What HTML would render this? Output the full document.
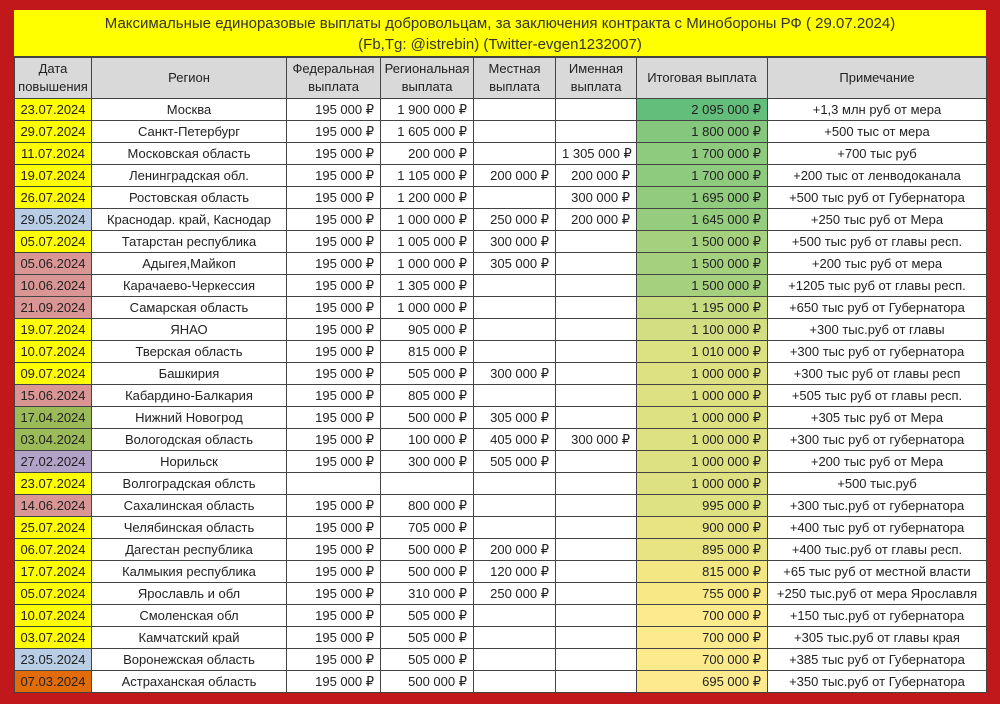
<!DOCTYPE html>
<html><head><meta charset="utf-8"><style>
body{margin:0;width:1000px;height:704px;background:#c0181b;overflow:hidden;font-family:"Liberation Sans","DejaVu Sans",sans-serif;}
#t{position:absolute;left:14px;top:10px;width:972px;background:#fff;}
.title{background:#ffff00;height:47px;text-align:center;font-size:15px;line-height:21px;color:#333;padding-top:3px;box-sizing:border-box;border-bottom:1px solid #444;}
table{border-collapse:collapse;table-layout:fixed;width:972px;font-size:13px;color:#222;}
td,th{border:1px solid #444;padding:0 6px;height:21px;white-space:nowrap;overflow:hidden;}
th{background:#d9d9d9;font-weight:normal;height:40px;line-height:18px;text-align:center;padding:0 2px;}
td{text-align:right;}
td.d{text-align:center;background:#ffff00;padding:0;}
td.r,td.n{text-align:center;padding:0 2px;}
.b{background:#b9cde5!important}.p{background:#d99694!important}.g{background:#9bbb59!important}.v{background:#b3a2c7!important}.o{background:#e26b0a!important}
</style></head><body>
<div id="t">
<div class="title">Максимальные единоразовые выплаты добровольцам, за заключения контракта с Минобороны РФ ( 29.07.2024)<br>(Fb,Tg: @istrebin) (Twitter-evgen1232007)</div>
<table>
<colgroup><col style="width:77px"><col style="width:195px"><col style="width:94px"><col style="width:93px"><col style="width:82px"><col style="width:81px"><col style="width:131px"><col style="width:219px"></colgroup>
<tr><th>Дата<br>повышения</th><th>Регион</th><th>Федеральная<br>выплата</th><th>Региональная<br>выплата</th><th>Местная<br>выплата</th><th>Именная<br>выплата</th><th>Итоговая выплата</th><th>Примечание</th></tr>
<tr><td class="d">23.07.2024</td><td class="r">Москва</td><td>195 000 ₽</td><td>1 900 000 ₽</td><td></td><td></td><td style="background:#63be7b">2 095 000 ₽</td><td class="n">+1,3 млн руб от мера</td></tr>
<tr><td class="d">29.07.2024</td><td class="r">Санкт-Петербург</td><td>195 000 ₽</td><td>1 605 000 ₽</td><td></td><td></td><td style="background:#84c77d">1 800 000 ₽</td><td class="n">+500 тыс от мера</td></tr>
<tr><td class="d">11.07.2024</td><td class="r">Московская область</td><td>195 000 ₽</td><td>200 000 ₽</td><td></td><td>1 305 000 ₽</td><td style="background:#8fcb7e">1 700 000 ₽</td><td class="n">+700 тыс руб</td></tr>
<tr><td class="d">19.07.2024</td><td class="r">Ленинградская обл.</td><td>195 000 ₽</td><td>1 105 000 ₽</td><td>200 000 ₽</td><td>200 000 ₽</td><td style="background:#8fcb7e">1 700 000 ₽</td><td class="n">+200 тыс от ленводоканала</td></tr>
<tr><td class="d">26.07.2024</td><td class="r">Ростовская область</td><td>195 000 ₽</td><td>1 200 000 ₽</td><td></td><td>300 000 ₽</td><td style="background:#90cb7e">1 695 000 ₽</td><td class="n">+500 тыс руб от Губернатора</td></tr>
<tr><td class="d b">29.05.2024</td><td class="r">Краснодар. край, Каснодар</td><td>195 000 ₽</td><td>1 000 000 ₽</td><td>250 000 ₽</td><td>200 000 ₽</td><td style="background:#95cc7e">1 645 000 ₽</td><td class="n">+250 тыс руб от Мера</td></tr>
<tr><td class="d">05.07.2024</td><td class="r">Татарстан республика</td><td>195 000 ₽</td><td>1 005 000 ₽</td><td>300 000 ₽</td><td></td><td style="background:#a5d17f">1 500 000 ₽</td><td class="n">+500 тыс руб от главы респ.</td></tr>
<tr><td class="d p">05.06.2024</td><td class="r">Адыгея,Майкоп</td><td>195 000 ₽</td><td>1 000 000 ₽</td><td>305 000 ₽</td><td></td><td style="background:#a5d17f">1 500 000 ₽</td><td class="n">+200 тыс руб от мера</td></tr>
<tr><td class="d p">10.06.2024</td><td class="r">Карачаево-Черкессия</td><td>195 000 ₽</td><td>1 305 000 ₽</td><td></td><td></td><td style="background:#a5d17f">1 500 000 ₽</td><td class="n">+1205 тыс руб от главы респ.</td></tr>
<tr><td class="d p">21.09.2024</td><td class="r">Самарская область</td><td>195 000 ₽</td><td>1 000 000 ₽</td><td></td><td></td><td style="background:#c7db81">1 195 000 ₽</td><td class="n">+650 тыс руб от Губернатора</td></tr>
<tr><td class="d">19.07.2024</td><td class="r">ЯНАО</td><td>195 000 ₽</td><td>905 000 ₽</td><td></td><td></td><td style="background:#d2de81">1 100 000 ₽</td><td class="n">+300 тыс.руб от главы</td></tr>
<tr><td class="d">10.07.2024</td><td class="r">Тверская область</td><td>195 000 ₽</td><td>815 000 ₽</td><td></td><td></td><td style="background:#dce182">1 010 000 ₽</td><td class="n">+300 тыс руб от губернатора</td></tr>
<tr><td class="d">09.07.2024</td><td class="r">Башкирия</td><td>195 000 ₽</td><td>505 000 ₽</td><td>300 000 ₽</td><td></td><td style="background:#dde182">1 000 000 ₽</td><td class="n">+300 тыс руб от главы респ</td></tr>
<tr><td class="d p">15.06.2024</td><td class="r">Кабардино-Балкария</td><td>195 000 ₽</td><td>805 000 ₽</td><td></td><td></td><td style="background:#dde182">1 000 000 ₽</td><td class="n">+505 тыс руб от главы респ.</td></tr>
<tr><td class="d g">17.04.2024</td><td class="r">Нижний Новогрод</td><td>195 000 ₽</td><td>500 000 ₽</td><td>305 000 ₽</td><td></td><td style="background:#dde182">1 000 000 ₽</td><td class="n">+305 тыс руб от Мера</td></tr>
<tr><td class="d g">03.04.2024</td><td class="r">Вологодская область</td><td>195 000 ₽</td><td>100 000 ₽</td><td>405 000 ₽</td><td>300 000 ₽</td><td style="background:#dde182">1 000 000 ₽</td><td class="n">+300 тыс руб от губернатора</td></tr>
<tr><td class="d v">27.02.2024</td><td class="r">Норильск</td><td>195 000 ₽</td><td>300 000 ₽</td><td>505 000 ₽</td><td></td><td style="background:#dde182">1 000 000 ₽</td><td class="n">+200 тыс руб от Мера</td></tr>
<tr><td class="d">23.07.2024</td><td class="r">Волгоградская облсть</td><td></td><td></td><td></td><td></td><td style="background:#dde182">1 000 000 ₽</td><td class="n">+500 тыс.руб</td></tr>
<tr><td class="d p">14.06.2024</td><td class="r">Сахалинская область</td><td>195 000 ₽</td><td>800 000 ₽</td><td></td><td></td><td style="background:#dee282">995 000 ₽</td><td class="n">+300 тыс.руб от губернатора</td></tr>
<tr><td class="d">25.07.2024</td><td class="r">Челябинская область</td><td>195 000 ₽</td><td>705 000 ₽</td><td></td><td></td><td style="background:#e8e483">900 000 ₽</td><td class="n">+400 тыс руб от губернатора</td></tr>
<tr><td class="d">06.07.2024</td><td class="r">Дагестан республика</td><td>195 000 ₽</td><td>500 000 ₽</td><td>200 000 ₽</td><td></td><td style="background:#e9e483">895 000 ₽</td><td class="n">+400 тыс.руб от главы респ.</td></tr>
<tr><td class="d">17.07.2024</td><td class="r">Калмыкия республика</td><td>195 000 ₽</td><td>500 000 ₽</td><td>120 000 ₽</td><td></td><td style="background:#f2e783">815 000 ₽</td><td class="n">+65 тыс руб от местной власти</td></tr>
<tr><td class="d">05.07.2024</td><td class="r">Ярославль и обл</td><td>195 000 ₽</td><td>310 000 ₽</td><td>250 000 ₽</td><td></td><td style="background:#f8e986">755 000 ₽</td><td class="n">+250 тыс.руб от мера Ярославля</td></tr>
<tr><td class="d">10.07.2024</td><td class="r">Смоленская обл</td><td>195 000 ₽</td><td>505 000 ₽</td><td></td><td></td><td style="background:#fdea8c">700 000 ₽</td><td class="n">+150 тыс.руб от губернатора</td></tr>
<tr><td class="d">03.07.2024</td><td class="r">Камчатский край</td><td>195 000 ₽</td><td>505 000 ₽</td><td></td><td></td><td style="background:#fdea8c">700 000 ₽</td><td class="n">+305 тыс.руб от главы края</td></tr>
<tr><td class="d b">23.05.2024</td><td class="r">Воронежская область</td><td>195 000 ₽</td><td>505 000 ₽</td><td></td><td></td><td style="background:#fdea8c">700 000 ₽</td><td class="n">+385 тыс руб от Губернатора</td></tr>
<tr><td class="d o">07.03.2024</td><td class="r">Астраханская область</td><td>195 000 ₽</td><td>500 000 ₽</td><td></td><td></td><td style="background:#fdea8e">695 000 ₽</td><td class="n">+350 тыс.руб от Губернатора</td></tr>
</table>
</div>
</body></html>
